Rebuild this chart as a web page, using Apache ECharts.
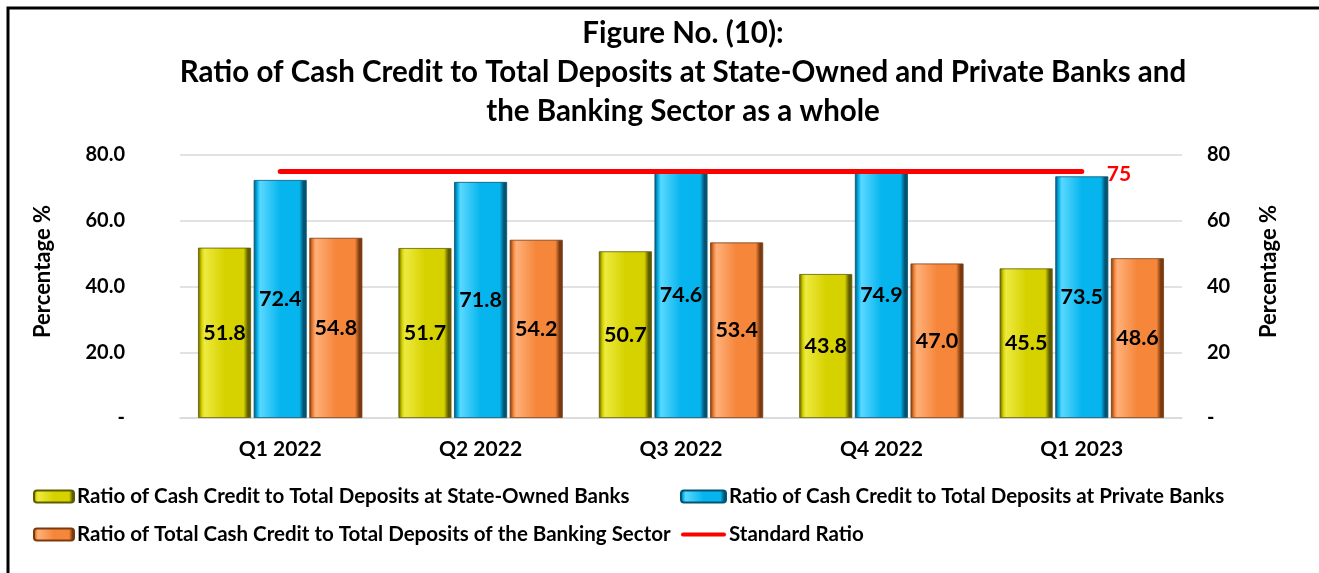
<!DOCTYPE html>
<html>
<head>
<meta charset="utf-8">
<script src="https://cdn.jsdelivr.net/npm/echarts@6/dist/echarts.min.js"></script>
<style>
  html, body { margin: 0; padding: 0; background: #fff; }
  #chart { width: 1319px; height: 573px; }
</style>
</head>
<body>
<div id="chart"></div>
<script>
// Quarters on the horizontal axis
const quarters = ['Q1 2022', 'Q2 2022', 'Q3 2022', 'Q4 2022', 'Q1 2023'];

// Cash credit to total deposits (%)
const stateOwnedBanks = [51.8, 51.7, 50.7, 43.8, 45.5];
const privateBanks = [72.4, 71.8, 74.6, 74.9, 73.5];
const bankingSector = [54.8, 54.2, 53.4, 47.0, 48.6];
const standardRatio = [75, 75, 75, 75, 75];

const seriesNames = [
  'Ratio of Cash Credit to Total Deposits at State-Owned Banks',
  'Ratio of Cash Credit to Total Deposits at Private Banks',
  'Ratio of Total Cash Credit to Total Deposits of the Banking Sector',
  'Standard Ratio'
];

const FONT = 'Lato';

// Horizontal shading that gives each bar a bevelled, rounded look
function bevel(dark, base, light) {
  return new echarts.graphic.LinearGradient(0, 0, 1, 0, [
    { offset: 0, color: dark },
    { offset: 0.07, color: base },
    { offset: 0.12, color: light },
    { offset: 0.5, color: base },
    { offset: 0.86, color: base },
    { offset: 0.94, color: dark },
    { offset: 1, color: dark }
  ]);
}

function barSeries(name, data, colors) {
  return {
    name: name,
    type: 'bar',
    data: data,
    barWidth: 53,
    barGap: '5%',
    itemStyle: {
      color: bevel(colors[0], colors[1], colors[2]),
      borderColor: colors[0],
      borderWidth: 0.8
    },
    label: {
      show: true,
      position: 'inside',
      color: '#000',
      fontFamily: FONT,
      fontWeight: 'bold',
      fontSize: 21.5,
      formatter: p => p.value.toFixed(1)
    },
    z: 2
  };
}

const legendText = {
  fontFamily: FONT, fontWeight: 'bold', fontSize: 20.5, lineHeight: 20,
  color: '#000', padding: [0, 0, 0, -2]
};

// Thick rounded stroke used as the legend key of the standard line
const lineKey = 'path://M2,0 L43,0 A2,2 0 0 1 43,4 L2,4 A2,2 0 0 1 2,0 Z';

const chart = echarts.init(document.getElementById('chart'), null, { renderer: 'canvas' });

chart.setOption({
  animation: false,
  backgroundColor: '#fff',
  textStyle: { fontFamily: FONT },
  title: {
    text: 'Figure No. (10):\nRatio of Cash Credit to Total Deposits at State-Owned and Private Banks and\nthe Banking Sector as a whole',
    left: 683,
    top: 14,
    textAlign: 'center',
    padding: 0,
    textStyle: {
      fontFamily: FONT,
      fontWeight: 'bold',
      fontSize: 29.5,
      lineHeight: 39,
      color: '#000'
    }
  },
  graphic: [{
    type: 'rect',
    shape: { x: 8, y: 8, width: 1330, height: 600 },
    style: { fill: 'none', stroke: '#000', lineWidth: 3 },
    silent: true
  }],
  legend: [
    {
      data: [seriesNames[0], seriesNames[2]],
      orient: 'vertical',
      left: 33,
      top: 486,
      itemWidth: 40,
      itemHeight: 12,
      itemGap: 17,
      padding: 0,
      textStyle: legendText
    },
    {
      data: [seriesNames[1], { name: seriesNames[3], icon: lineKey }],
      orient: 'vertical',
      left: 680,
      top: 486,
      itemWidth: 45,
      itemHeight: 12,
      itemGap: 17,
      padding: 0,
      textStyle: legendText
    }
  ],
  grid: { left: 180, right: 137, top: 155, bottom: 155, containLabel: false },
  xAxis: {
    type: 'category',
    data: quarters,
    axisTick: { show: false },
    axisLine: { lineStyle: { color: '#D9D9D9', width: 1.5 } },
    axisLabel: { color: '#000', fontFamily: FONT, fontWeight: 'bold', fontSize: 21, margin: 21 }
  },
  yAxis: [
    {
      type: 'value',
      min: 0, max: 80, interval: 20,
      name: 'Percentage %',
      nameLocation: 'middle',
      nameGap: 126,
      nameTextStyle: { color: '#000', fontFamily: FONT, fontWeight: 'bold', fontSize: 22, padding: [0, 0, 0, 30] },
      axisLine: { show: false },
      axisTick: { show: false },
      splitLine: { lineStyle: { color: '#D9D9D9', width: 1.5 } },
      axisLabel: {
        color: '#000', fontFamily: FONT, fontWeight: 'bold', fontSize: 20, margin: 55,
        formatter: v => v === 0 ? '-' : v.toFixed(1)
      }
    },
    {
      type: 'value',
      min: 0, max: 80, interval: 20,
      name: 'Percentage %',
      nameLocation: 'middle',
      nameGap: 76,
      nameRotate: 90,
      nameTextStyle: { color: '#000', fontFamily: FONT, fontWeight: 'bold', fontSize: 22, padding: [0, 0, 0, 30] },
      axisLine: { show: false },
      axisTick: { show: false },
      splitLine: { show: false },
      axisLabel: {
        color: '#000', fontFamily: FONT, fontWeight: 'bold', fontSize: 20, margin: 25,
        formatter: v => v === 0 ? '-' : String(v)
      }
    }
  ],
  series: [
    barSeries(seriesNames[0], stateOwnedBanks, ['#5E5C00', '#D6D200', '#EEEA40']),
    barSeries(seriesNames[1], privateBanks, ['#035472', '#06B5EE', '#5AD8FF']),
    barSeries(seriesNames[2], bankingSector, ['#7A3A10', '#F5863A', '#FFB07A']),
    {
      name: seriesNames[3],
      type: 'line',
      yAxisIndex: 1,
      data: standardRatio,
      symbol: 'none',
      lineStyle: { color: '#FF0000', width: 5, cap: 'round' },
      itemStyle: { color: '#FF0000' },
      endLabel: {
        show: true,
        distance: 25,
        offset: [0, 3],
        color: '#FF0000',
        fontFamily: FONT,
        fontWeight: 'bold',
        fontSize: 21,
        formatter: p => String(p.value)
      },
      z: 5
    }
  ]
});
</script>
</body>
</html>
